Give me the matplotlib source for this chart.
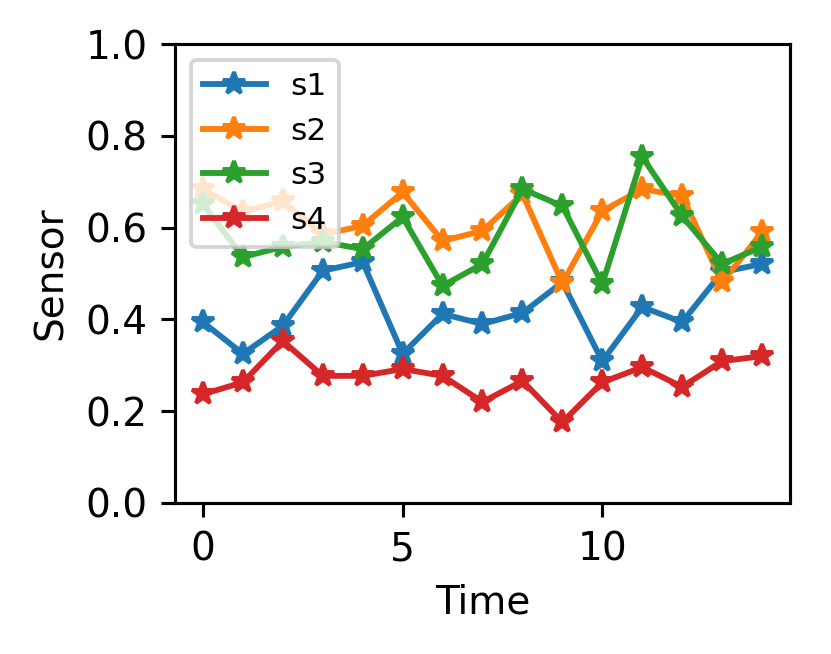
import matplotlib
matplotlib.use("Agg")
import matplotlib.pyplot as plt
import numpy as np

time = list(range(15))
s1 = [0.394, 0.325, 0.386, 0.506, 0.525, 0.325, 0.412, 0.390, 0.414, 0.481, 0.309, 0.427, 0.394, 0.503, 0.521]
s2 = [0.684, 0.634, 0.658, 0.585, 0.604, 0.677, 0.571, 0.593, 0.673, 0.479, 0.636, 0.684, 0.669, 0.481, 0.590]
s3 = [0.651, 0.536, 0.558, 0.569, 0.553, 0.623, 0.473, 0.521, 0.684, 0.647, 0.477, 0.754, 0.625, 0.521, 0.558]
s4 = [0.237, 0.263, 0.353, 0.277, 0.277, 0.292, 0.277, 0.220, 0.266, 0.176, 0.263, 0.296, 0.253, 0.309, 0.320]
series = {"s1": s1, "s2": s2, "s3": s3, "s4": s4}

DPI = 281
fig = plt.figure(figsize=(832 / DPI, 654 / DPI), dpi=DPI)
ax = fig.add_axes([175 / 832, 1 - 503 / 654, 615 / 832, 459 / 654])
for name, vals in series.items():
    ax.plot(time, vals, marker="*", label=name)
ax.set_ylim(0, 1)
ax.set_xlabel("Time")
ax.set_ylabel("Sensor")
ax.legend(loc="upper left", fontsize=8)
fig.savefig("out.png", dpi=DPI)
